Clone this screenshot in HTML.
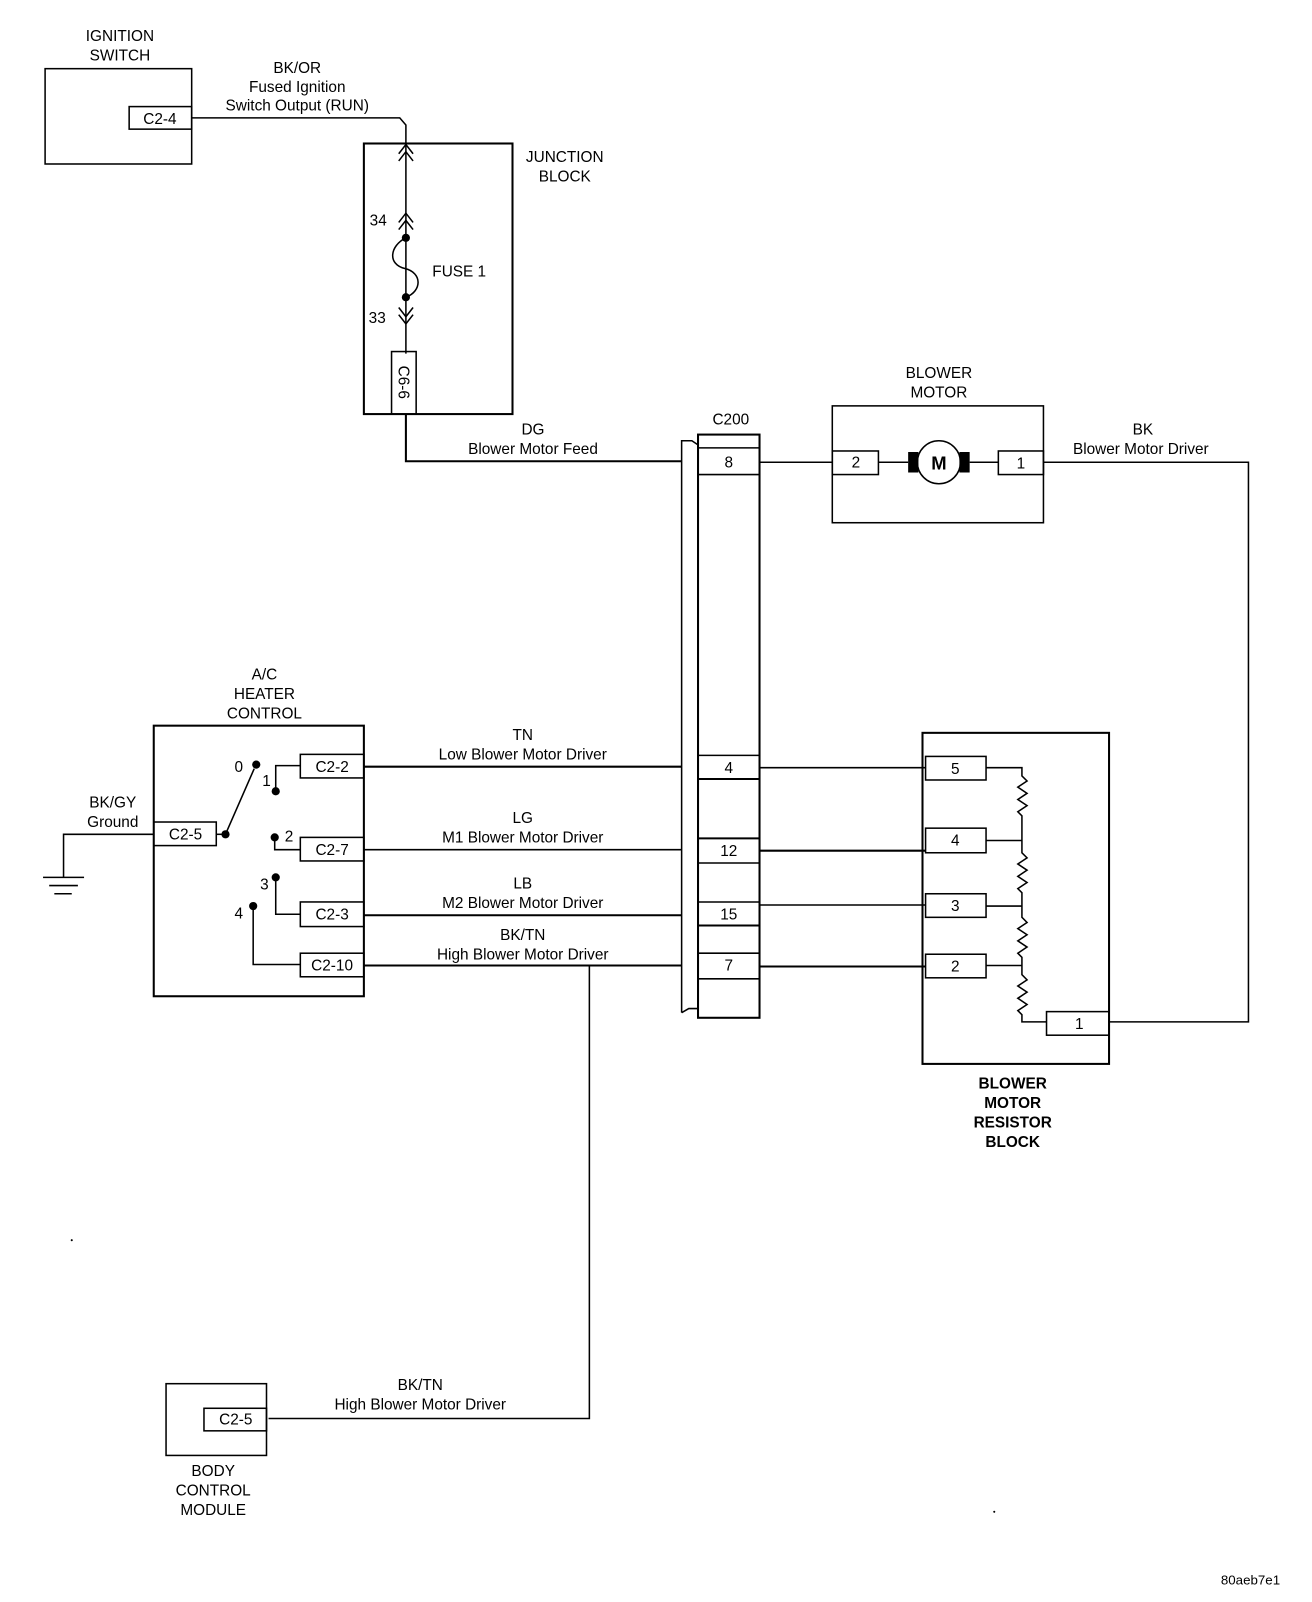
<!DOCTYPE html>
<html><head><meta charset="utf-8"><style>
html,body{margin:0;padding:0;background:#fff;}
svg{display:block;}
text{font-family:"Liberation Sans",Arial,sans-serif;font-size:15px;fill:#000;text-anchor:middle;}
.b{font-weight:bold;}
</style></head><body>
<svg width="1312" height="1602" viewBox="0 0 1280 1563" preserveAspectRatio="none" xmlns="http://www.w3.org/2000/svg">
<g fill="none" stroke="#000" stroke-width="1.5">
<!-- Ignition switch -->
<rect x="44" y="67" width="143" height="93"/>
<rect x="126" y="104" width="61" height="22"/>
<polyline points="187,115 390,115 396,122 396,345"/>
<!-- Junction block -->
<rect x="355" y="140" width="145" height="264" stroke-width="2"/>
<polyline points="389,150 396,141 403,150"/>
<polyline points="389,157 396,148 403,157"/>
<polyline points="389,217 396,208 403,217"/>
<polyline points="389,224 396,215 403,224"/>
<path d="M396,232 C380,240 378,258 395,262 C412,266 412,284 396,290"/>
<polyline points="389,300 396,309 403,300"/>
<polyline points="389,307 396,316 403,307"/>
<rect x="382" y="343" width="24" height="61"/>
<polyline points="396,404 396,450 665,450" stroke-width="2"/>
<!-- C200 -->
<polyline points="665,988 665,430 675,430 681,434"/>
<polyline points="665,988 672,984 681,984"/>
<rect x="681" y="424" width="60" height="569" stroke-width="2"/>
<line x1="681" y1="437" x2="741" y2="437"/>
<line x1="681" y1="463" x2="741" y2="463"/>
<line x1="681" y1="737" x2="741" y2="737"/>
<line x1="681" y1="760" x2="741" y2="760" stroke-width="2"/>
<line x1="681" y1="818" x2="741" y2="818" stroke-width="2"/>
<line x1="681" y1="842" x2="741" y2="842"/>
<line x1="681" y1="880" x2="741" y2="880"/>
<line x1="681" y1="903" x2="741" y2="903" stroke-width="2"/>
<line x1="681" y1="930" x2="741" y2="930"/>
<line x1="681" y1="955" x2="741" y2="955"/>
<!-- Blower motor -->
<line x1="741" y1="451" x2="812" y2="451"/>
<rect x="812" y="396" width="206" height="114"/>
<rect x="812" y="440" width="45" height="23"/>
<rect x="974" y="440" width="44" height="23"/>
<line x1="857" y1="451" x2="886" y2="451"/>
<line x1="946" y1="451" x2="974" y2="451"/>
<circle cx="916" cy="451" r="21"/>
<polyline points="1018,451 1218,451 1218,997 1082,997"/>
<!-- AC heater control -->
<rect x="150" y="708" width="205" height="264" stroke-width="2"/>
<rect x="293" y="736" width="62" height="23"/>
<rect x="293" y="817" width="62" height="23"/>
<rect x="293" y="880" width="62" height="24"/>
<rect x="293" y="930" width="62" height="23"/>
<rect x="150" y="802" width="61" height="23"/>
<line x1="211" y1="814" x2="220" y2="814"/>
<line x1="220" y1="814" x2="248" y2="750"/>
<polyline points="269,772 269,747 293,747"/>
<polyline points="268,817 268,829 293,829"/>
<polyline points="269,856 269,892 293,892"/>
<polyline points="247,884 247,941 293,941"/>
<polyline points="150,814 62,814 62,856"/>
<line x1="42" y1="856" x2="82" y2="856"/>
<line x1="48" y1="864" x2="76" y2="864"/>
<line x1="53" y1="872" x2="70" y2="872"/>
<line x1="355" y1="748" x2="665" y2="748" stroke-width="2"/>
<line x1="355" y1="829" x2="665" y2="829"/>
<line x1="355" y1="893" x2="665" y2="893" stroke-width="2"/>
<line x1="355" y1="942" x2="665" y2="942" stroke-width="2"/>
<polyline points="575,942 575,1384 262,1384"/>
<!-- C200 to resistor -->
<line x1="741" y1="749" x2="903" y2="749"/>
<line x1="741" y1="830" x2="903" y2="830" stroke-width="2"/>
<line x1="741" y1="883" x2="903" y2="883"/>
<line x1="741" y1="943" x2="903" y2="943" stroke-width="2"/>
<!-- Resistor block -->
<rect x="900" y="715" width="182" height="323" stroke-width="2"/>
<rect x="903" y="738" width="59" height="23"/>
<rect x="903" y="808" width="59" height="24"/>
<rect x="903" y="872" width="59" height="23"/>
<rect x="903" y="931" width="59" height="23"/>
<rect x="1021" y="987" width="61" height="23"/>
<polyline points="962,749 997,749 997,757 1002,762 993,768 1002,774 993,780 1002,786 993,792 997,796 997,820"/>
<line x1="962" y1="820" x2="997" y2="820"/>
<polyline points="997,820 997,832 1002,837 993,843 1002,849 993,855 1002,861 993,867 997,871 997,884"/>
<line x1="962" y1="884" x2="997" y2="884"/>
<polyline points="997,884 997,895 1002,900 993,906 1002,912 993,918 1002,924 993,930 997,934 997,942"/>
<line x1="962" y1="942" x2="997" y2="942"/>
<polyline points="997,942 997,951 1002,956 993,962 1002,968 993,974 1002,980 993,986 997,990 997,997 1021,997"/>
<!-- BCM -->
<rect x="162" y="1350" width="98" height="70"/>
<rect x="199" y="1374" width="61" height="22"/>
</g>
<g fill="#000">
<circle cx="396" cy="232" r="4"/>
<circle cx="396" cy="290" r="4"/>
<rect x="886" y="441" width="10" height="20"/>
<rect x="936" y="441" width="10" height="20"/>
<circle cx="220" cy="814" r="4"/>
<circle cx="250" cy="746" r="4"/>
<circle cx="269" cy="772" r="4"/>
<circle cx="268" cy="817" r="4"/>
<circle cx="269" cy="856" r="4"/>
<circle cx="247" cy="884" r="4"/>
<circle cx="70" cy="1210" r="1"/>
<circle cx="970" cy="1475" r="1"/>
</g>
<text x="117" y="40">IGNITION</text>
<text x="117" y="59">SWITCH</text>
<text x="156" y="121">C2-4</text>
<text x="290" y="71">BK/OR</text>
<text x="290" y="90">Fused Ignition</text>
<text x="290" y="108">Switch Output (RUN)</text>
<text x="551" y="158">JUNCTION</text>
<text x="551" y="177">BLOCK</text>
<text x="369" y="220">34</text>
<text x="368" y="315">33</text>
<text x="448" y="270">FUSE 1</text>
<text x="0" y="0" transform="translate(389,373) rotate(90)">C6-6</text>
<text x="520" y="424">DG</text>
<text x="520" y="443">Blower Motor Feed</text>
<text x="713" y="414">C200</text>
<text x="711" y="456">8</text>
<text x="711" y="754">4</text>
<text x="711" y="835">12</text>
<text x="711" y="897">15</text>
<text x="711" y="947">7</text>
<text x="916" y="369">BLOWER</text>
<text x="916" y="388">MOTOR</text>
<text x="835" y="456">2</text>
<text x="996" y="457">1</text>
<text x="916" y="458" class="b" style="font-size:18px">M</text>
<text x="1115" y="424">BK</text>
<text x="1113" y="443">Blower Motor Driver</text>
<text x="258" y="663">A/C</text>
<text x="258" y="682">HEATER</text>
<text x="258" y="701">CONTROL</text>
<text x="324" y="753">C2-2</text>
<text x="324" y="834">C2-7</text>
<text x="324" y="897">C2-3</text>
<text x="324" y="947">C2-10</text>
<text x="181" y="819">C2-5</text>
<text x="233" y="753">0</text>
<text x="260" y="767">1</text>
<text x="282" y="821">2</text>
<text x="258" y="868">3</text>
<text x="233" y="896">4</text>
<text x="110" y="788">BK/GY</text>
<text x="110" y="807">Ground</text>
<text x="510" y="722">TN</text>
<text x="510" y="741">Low Blower Motor Driver</text>
<text x="510" y="803">LG</text>
<text x="510" y="822">M1 Blower Motor Driver</text>
<text x="510" y="867">LB</text>
<text x="510" y="886">M2 Blower Motor Driver</text>
<text x="510" y="917">BK/TN</text>
<text x="510" y="936">High Blower Motor Driver</text>
<text x="932" y="755">5</text>
<text x="932" y="825">4</text>
<text x="932" y="889">3</text>
<text x="932" y="948">2</text>
<text x="1053" y="1004">1</text>
<text x="988" y="1062" class="b">BLOWER</text>
<text x="988" y="1081" class="b">MOTOR</text>
<text x="988" y="1100" class="b">RESISTOR</text>
<text x="988" y="1119" class="b">BLOCK</text>
<text x="230" y="1390">C2-5</text>
<text x="410" y="1356">BK/TN</text>
<text x="410" y="1375">High Blower Motor Driver</text>
<text x="208" y="1440">BODY</text>
<text x="208" y="1459">CONTROL</text>
<text x="208" y="1478">MODULE</text>
<text x="1220" y="1546" style="font-size:13px">80aeb7e1</text>
</svg>
</body></html>
